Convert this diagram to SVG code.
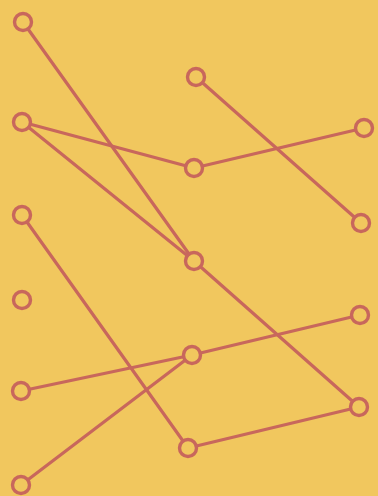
<svg xmlns="http://www.w3.org/2000/svg" width="378" height="496" viewBox="0 0 378 496">
<style>
.e{stroke:#c8675c;stroke-width:3.2;stroke-linecap:round;fill:none}
.n{stroke:#c8675c;stroke-width:3.4;fill:#f1c75e}
</style>
<rect width="378" height="496" fill="#f1c75e"/>
<g id="connectors">
<line class="e" x1="23" y1="22" x2="194" y2="261"/>
<line class="e" x1="196" y1="77" x2="361" y2="223"/>
<line class="e" x1="22" y1="122" x2="194" y2="168"/>
<line class="e" x1="22" y1="122" x2="194" y2="261"/>
<line class="e" x1="194" y1="168" x2="364" y2="128"/>
<line class="e" x1="194" y1="261" x2="359" y2="407"/>
<line class="e" x1="22" y1="215" x2="188" y2="448"/>
<line class="e" x1="21" y1="391" x2="192" y2="355"/>
<line class="e" x1="21" y1="485" x2="192" y2="355"/>
<line class="e" x1="192" y1="355" x2="360" y2="315"/>
<line class="e" x1="188" y1="448" x2="359" y2="407"/>
</g>
<g id="nA"><circle class="n" cx="23" cy="22" r="8.5"/></g>
<g id="nB"><circle class="n" cx="196" cy="77" r="8.5"/></g>
<g id="nC"><circle class="n" cx="22" cy="122" r="8.5"/></g>
<g id="nD"><circle class="n" cx="364" cy="128" r="8.5"/></g>
<g id="nE"><circle class="n" cx="194" cy="168" r="8.5"/></g>
<g id="nF"><circle class="n" cx="22" cy="215" r="8.5"/></g>
<g id="nG"><circle class="n" cx="361" cy="223" r="8.5"/></g>
<g id="nH"><circle class="n" cx="194" cy="261" r="8.5"/></g>
<g id="nI"><circle class="n" cx="22" cy="300" r="8.5"/></g>
<g id="nJ"><circle class="n" cx="360" cy="315" r="8.5"/></g>
<g id="nK"><circle class="n" cx="192" cy="355" r="8.5"/></g>
<g id="nL"><circle class="n" cx="21" cy="391" r="8.5"/></g>
<g id="nM"><circle class="n" cx="359" cy="407" r="8.5"/></g>
<g id="nN"><circle class="n" cx="188" cy="448" r="8.5"/></g>
<g id="nO"><circle class="n" cx="21" cy="485" r="8.5"/></g>
</svg>
